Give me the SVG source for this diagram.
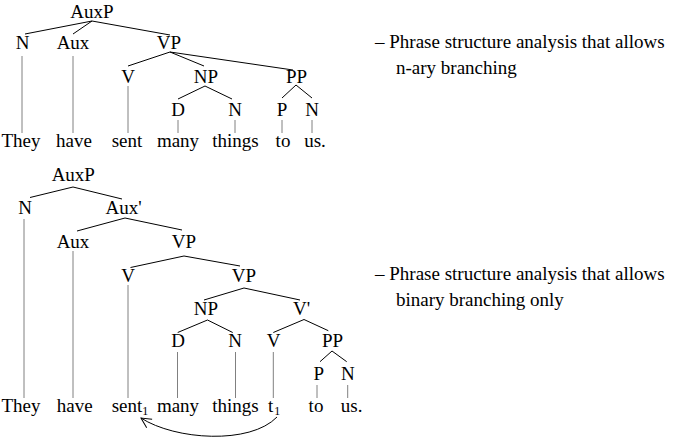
<svg xmlns="http://www.w3.org/2000/svg" width="686" height="440" viewBox="0 0 686 440">
<style>
text{font-family:"Liberation Serif","Times New Roman",serif;font-size:19px;fill:#000}
.c{text-anchor:middle}
.e{stroke:#000;stroke-width:1;fill:none}
.v{stroke:#808080;stroke-width:1;fill:none}
.sub{font-size:12px}
</style>
<defs>
<marker id="ah" viewBox="0 0 12 12" refX="11" refY="6" markerWidth="12" markerHeight="12" markerUnits="userSpaceOnUse" orient="auto">
<path d="M1,1 L11,6 L1,11" stroke="#000" stroke-width="1" fill="none"/>
</marker>
</defs>
<rect width="686" height="440" fill="#fff"/>

<g id="connectors">
<!-- tree 1 -->
<path class="e" d="M92,21L25,34M92,21L73,34M92,21L170,35"/>
<path class="e" d="M170,52L128,66M170,52L204,66M170,52L293,70"/>
<path class="e" d="M205,86L178,99M205,86L232,99"/>
<path class="e" d="M296,85L282,98M296,85L312,98"/>
<path class="v" d="M22,56V133M73,56V133M128,86V133M178,120V133M235,120V133M282,120V133M312,120V133"/>
<!-- tree 2 -->
<path class="e" d="M73,187L30,197.5M73,187L122,199"/>
<path class="e" d="M125,218L77,231M125,218L182,230"/>
<path class="e" d="M184,256L130.5,267.5M184,256L240,266"/>
<path class="e" d="M244,288L204,300M244,288L300,300"/>
<path class="e" d="M207.5,320L177.7,332.5M207.5,320L232.7,332.5"/>
<path class="e" d="M304,319.5L273.3,332.5M304,319.5L328.3,330.7"/>
<path class="e" d="M332,351L320,361.7M332,351L346.7,361.7"/>
<path class="v" d="M24,219V398M73,251V398M128,285V398M177.5,352V398M235.5,352V398M273.3,352V398M317,385V398M347.7,385V398"/>
<path class="e" d="M277,417C250,445 175,440 141,418" marker-end="url(#ah)"/>
</g>

<g id="tree1">
<g id="t1-auxp"><text class="c" x="92" y="17.5">AuxP</text></g>
<g id="t1-n"><text class="c" x="22.5" y="49">N</text></g>
<g id="t1-aux"><text class="c" x="73" y="49">Aux</text></g>
<g id="t1-vp"><text class="c" x="169" y="49">VP</text></g>
<g id="t1-v"><text class="c" x="128" y="82.5">V</text></g>
<g id="t1-np"><text class="c" x="206" y="82.5">NP</text></g>
<g id="t1-pp"><text class="c" x="296.5" y="82.5">PP</text></g>
<g id="t1-d"><text class="c" x="178" y="116">D</text></g>
<g id="t1-n2"><text class="c" x="235" y="116">N</text></g>
<g id="t1-p"><text class="c" x="282" y="116">P</text></g>
<g id="t1-n3"><text class="c" x="312" y="116">N</text></g>
<g id="t1-they"><text class="c" x="21" y="147">They</text></g>
<g id="t1-have"><text class="c" x="74" y="147">have</text></g>
<g id="t1-sent"><text class="c" x="127" y="147">sent</text></g>
<g id="t1-many"><text class="c" x="178" y="147">many</text></g>
<g id="t1-things"><text class="c" x="235.5" y="147">things</text></g>
<g id="t1-to"><text class="c" x="283" y="147">to</text></g>
<g id="t1-us"><text class="c" x="315" y="147">us.</text></g>
</g>

<g id="tree2">
<g id="t2-auxp"><text class="c" x="73.3" y="181">AuxP</text></g>
<g id="t2-n"><text class="c" x="25" y="214">N</text></g>
<g id="t2-auxbar"><text class="c" x="123.7" y="214">Aux'</text></g>
<g id="t2-aux"><text class="c" x="73" y="247.5">Aux</text></g>
<g id="t2-vp"><text class="c" x="184" y="247.5">VP</text></g>
<g id="t2-v"><text class="c" x="128" y="281.5">V</text></g>
<g id="t2-vp2"><text class="c" x="244" y="281.5">VP</text></g>
<g id="t2-np"><text class="c" x="206" y="315">NP</text></g>
<g id="t2-vbar"><text class="c" x="301.5" y="315">V'</text></g>
<g id="t2-d"><text class="c" x="178" y="347">D</text></g>
<g id="t2-n2"><text class="c" x="235" y="347">N</text></g>
<g id="t2-v2"><text class="c" x="273.7" y="347">V</text></g>
<g id="t2-pp"><text class="c" x="332.5" y="347">PP</text></g>
<g id="t2-p"><text class="c" x="318.7" y="380">P</text></g>
<g id="t2-n3"><text class="c" x="347.8" y="380">N</text></g>
<g id="t2-they"><text class="c" x="21" y="412">They</text></g>
<g id="t2-have"><text class="c" x="74.7" y="412">have</text></g>
<g id="t2-sent"><text x="111.7" y="412">sent<tspan class="sub" dy="3">1</tspan></text></g>
<g id="t2-many"><text class="c" x="178" y="412">many</text></g>
<g id="t2-things"><text class="c" x="235.5" y="412">things</text></g>
<g id="t2-t"><text x="268" y="412">t<tspan class="sub" dy="3" dx="1">1</tspan></text></g>
<g id="t2-to"><text class="c" x="316" y="412">to</text></g>
<g id="t2-us"><text class="c" x="351.7" y="412">us.</text></g>
</g>

<g id="notes">
<text x="375" y="48">– Phrase structure analysis that allows</text>
<text x="396" y="74">n-ary branching</text>
<text x="375" y="280">– Phrase structure analysis that allows</text>
<text x="396" y="306">binary branching only</text>
</g>
</svg>
